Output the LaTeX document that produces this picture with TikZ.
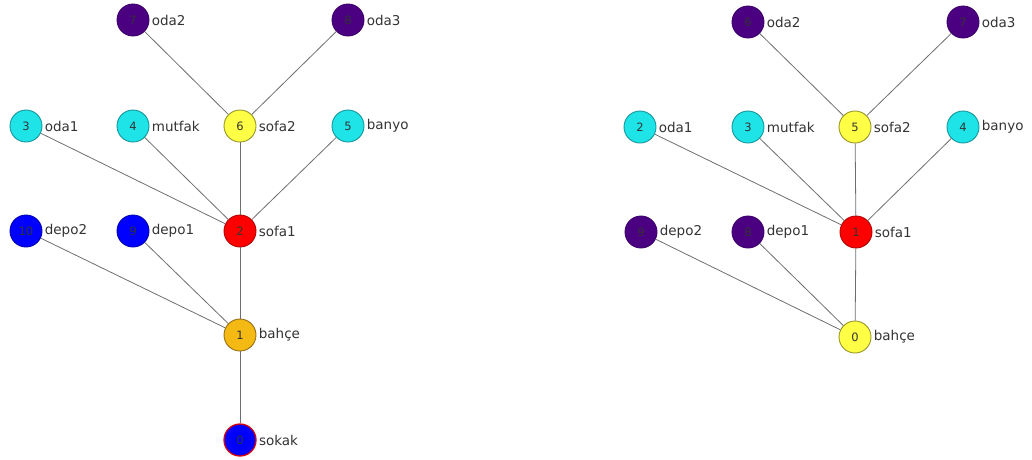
\documentclass[tikz,border=0pt]{standalone}
\usepackage{fontspec}
\setmainfont{DejaVu Sans}
\definecolor{cyn}{RGB}{30,228,232}
\definecolor{cynd}{RGB}{20,150,155}
\definecolor{pur}{RGB}{75,0,130}
\definecolor{purd}{RGB}{60,0,105}
\definecolor{yel}{RGB}{255,255,70}
\definecolor{yeld}{RGB}{150,150,40}
\definecolor{orn}{RGB}{245,185,20}
\definecolor{ornd}{RGB}{150,110,20}
\definecolor{edgec}{RGB}{110,110,110}
\begin{document}
\begin{tikzpicture}[x=1pt,y=-1pt,
  vtx/.style={circle,minimum size=32pt,inner sep=0pt,line width=0.9pt,font=\fontsize{11.5}{12}\selectfont,text=black!80,
    label={[font=\fontsize{13.5}{14}\selectfont,text=black!80,inner sep=2.2pt]east:#1}},
  cy/.style={fill=cyn,draw=cynd},
  pu/.style={fill=pur,draw=purd},
  ye/.style={fill=yel,draw=yeld},
  re/.style={fill=red,draw=red!70!black},
  bl/.style={fill=blue,draw=blue!70!black},
  ora/.style={fill=orn,draw=ornd},
  edge/.style={draw=edgec,line width=0.8pt}]
\useasboundingbox (0,0) rectangle (1032,459);
% left graph
\node[vtx=oda2,pu] (L7) at (133,20) {7};
\node[vtx=oda3,pu] (L8) at (348,20) {8};
\node[vtx=oda1,cy] (L3) at (26,126) {3};
\node[vtx=mutfak,cy] (L4) at (133,126) {4};
\node[vtx=sofa2,ye] (L6) at (240,126) {6};
\node[vtx=banyo,cy] (L5) at (348,126) {5};
\node[vtx=depo2,bl] (L10) at (26,231) {10};
\node[vtx=depo1,bl] (L9) at (133,231) {9};
\node[vtx=sofa1,re] (L2) at (240,231) {2};
\node[vtx=bahçe,ora] (L1) at (240,335) {1};
\node[vtx=sokak,fill=blue,draw=red!85!black,line width=1.3pt] (L0) at (240,440) {0};
\draw[edge] (L7) -- (L6);
\draw[edge] (L8) -- (L6);
\draw[edge] (L3) -- (L2);
\draw[edge] (L4) -- (L2);
\draw[edge] (L6) -- (L2);
\draw[edge] (L5) -- (L2);
\draw[edge] (L10) -- (L1);
\draw[edge] (L9) -- (L1);
\draw[edge] (L2) -- (L1);
\draw[edge] (L1) -- (L0);
% right graph
\node[vtx=oda2,pu] (R6) at (748,22) {6};
\node[vtx=oda3,pu] (R7) at (963,22) {7};
\node[vtx=oda1,cy] (R2) at (640,127) {2};
\node[vtx=mutfak,cy] (R3) at (748,127) {3};
\node[vtx=sofa2,ye] (R5) at (855,127) {5};
\node[vtx=banyo,cy] (R4) at (963,127) {4};
\node[vtx=depo2,pu] (R9) at (641,232) {9};
\node[vtx=depo1,pu] (R8) at (748,232) {8};
\node[vtx=sofa1,re] (R1) at (856,232) {1};
\node[vtx=bahçe,ye] (R0) at (855,337) {0};
\draw[edge] (R6) -- (R5);
\draw[edge] (R7) -- (R5);
\draw[edge] (R2) -- (R1);
\draw[edge] (R3) -- (R1);
\draw[edge] (R5) -- (R1);
\draw[edge] (R4) -- (R1);
\draw[edge] (R9) -- (R0);
\draw[edge] (R8) -- (R0);
\draw[edge] (R1) -- (R0);
\end{tikzpicture}
\end{document}
